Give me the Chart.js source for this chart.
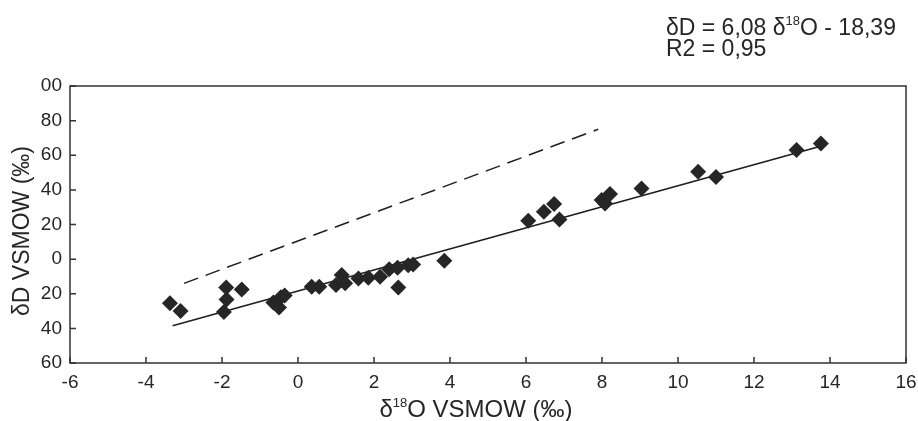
<!DOCTYPE html>
<html lang="pt-BR">
<head>
  <meta charset="UTF-8">
  <title>δD x δ18O VSMOW</title>
  <script src="https://cdn.jsdelivr.net/npm/chart.js"></script>
  <style>
    html, body { margin: 0; padding: 0; background: #fff; }
    #wrap { width: 918px; height: 421px; position: relative; }
  </style>
</head>
<body>
  <div id="wrap"><canvas id="isoChart"></canvas></div>
  <script>
    // amostras
    const d18O = [-3.37, -3.09, -1.89, -1.88, -1.95, -1.48, -0.65, -0.5, -0.45, -0.35,
                  0.36, 0.56, 1.0, 1.15, 1.24, 1.59, 1.85, 2.16, 2.4, 2.62, 2.64, 2.9, 3.03,
                  3.85, 6.06, 6.47, 6.74, 6.88, 7.99, 8.08, 8.21, 9.04, 10.53, 11.0, 13.12, 13.76];
    const dD = [-25.5, -29.9, -16.4, -23.3, -30.6, -17.5, -25, -28, -22, -21,
                -16, -16, -15, -9.2, -14, -11.2, -10.8, -10.2, -5.8, -5.0, -16.4, -3.5, -3.1,
                -1, 22.1, 27.3, 31.8, 22.9, 34.1, 32.2, 37.6, 40.8, 50.4, 47.5, 63, 66.8];

    // reta de regressão e reta tracejada
    const fitX = [-3.3, 13.8];
    const fitY = [-38.5, 65.5];
    const gmwlX = [-3, 7.9];
    const gmwlY = [-14, 75];

    // rótulos do eixo y como impressos (-60 ... 100)
    const yTickValues = [-60, -40, -20, 0, 20, 40, 60, 80, 100];
    const yTickLabels = ['60', '40', '20', '0', '20', '40', '60', '80', '00'];

    const ink = '#262626';
    const family = "'Liberation Sans', Arial, sans-serif";

    const pts = (xs, ys) => xs.map((x, i) => ({ x: x, y: ys[i] }));

    // texto com sobrescrito
    function drawRich(ctx, parts, x, y, align) {
      let total = 0;
      parts.forEach(p => {
        ctx.font = p.size + 'px ' + family;
        p.w = ctx.measureText(p.t).width;
        total += p.w;
      });
      let cx = align === 'center' ? x - total / 2 : x;
      parts.forEach(p => {
        ctx.font = p.size + 'px ' + family;
        ctx.fillText(p.t, cx, p.sup ? y - 10 : y);
        cx += p.w;
      });
    }

    const decor = {
      id: 'decor',
      afterDraw(chart) {
        const ctx = chart.ctx;
        const a = chart.chartArea;
        const sx = chart.scales.x, sy = chart.scales.y;
        ctx.save();
        // moldura
        ctx.strokeStyle = '#333';
        ctx.lineWidth = 1.5;
        ctx.strokeRect(a.left, a.top, a.right - a.left, a.bottom - a.top);
        // marcas para dentro
        ctx.beginPath();
        sx.ticks.forEach(t => {
          const px = sx.getPixelForValue(t.value);
          ctx.moveTo(px, a.bottom);
          ctx.lineTo(px, a.bottom - 6);
        });
        sy.ticks.forEach(t => {
          const py = sy.getPixelForValue(t.value);
          ctx.moveTo(a.left, py);
          ctx.lineTo(a.left + 6, py);
        });
        ctx.stroke();

        ctx.fillStyle = ink;
        ctx.textBaseline = 'alphabetic';
        ctx.textAlign = 'left';
        // equação
        drawRich(ctx, [
          { t: 'δD = 6,08 δ', size: 23 },
          { t: '18', size: 13, sup: true },
          { t: 'O - 18,39', size: 23 }
        ], 666, 35, 'left');
        drawRich(ctx, [{ t: 'R2 = 0,95', size: 23 }], 666, 56, 'left');

        // título do eixo x
        drawRich(ctx, [
          { t: 'δ', size: 24 },
          { t: '18', size: 13, sup: true },
          { t: 'O VSMOW (‰)', size: 24 }
        ], 476, 417, 'center');

        // título do eixo y
        ctx.translate(23, 231);
        ctx.rotate(-Math.PI / 2);
        ctx.textAlign = 'center';
        ctx.textBaseline = 'middle';
        ctx.font = '23px ' + family;
        ctx.fillText('δD VSMOW (‰)', 0, 0);
        ctx.restore();
      }
    };

    const ctx = document.getElementById('isoChart').getContext('2d');
    const isoChart = new Chart(ctx, {
      type: 'scatter',
      data: {
        datasets: [{
          label: 'amostras',
          data: pts(d18O, dD),
          pointStyle: 'rectRot',
          pointRadius: 8,
          backgroundColor: ink,
          borderColor: ink,
          borderWidth: 0,
          order: 0
        }, {
          label: 'regressão',
          data: pts(fitX, fitY),
          showLine: true,
          pointRadius: 0,
          borderColor: '#1e1e1e',
          borderWidth: 1.6,
          order: 1
        }, {
          label: 'tracejada',
          data: pts(gmwlX, gmwlY),
          showLine: true,
          pointRadius: 0,
          borderColor: '#1e1e1e',
          borderWidth: 1.5,
          borderDash: [15, 8],
          order: 1
        }]
      },
      options: {
        responsive: true,
        maintainAspectRatio: false,
        animation: false,
        layout: { padding: { top: 86, right: 12, left: 0, bottom: 0 } },
        plugins: {
          legend: { display: false },
          tooltip: { enabled: false }
        },
        scales: {
          x: {
            type: 'linear',
            min: -6,
            max: 16,
            ticks: {
              stepSize: 2,
              padding: 8,
              color: ink,
              font: { family: family, size: 19 }
            },
            grid: { display: false, drawTicks: false },
            border: { display: false },
            afterFit: s => { s.height = 58; s.paddingLeft = 0; s.paddingRight = 0; }
          },
          y: {
            type: 'linear',
            min: -60,
            max: 100,
            afterBuildTicks: s => { s.ticks = yTickValues.map(v => ({ value: v })); },
            ticks: {
              padding: 8,
              color: ink,
              font: { family: family, size: 19 },
              callback: v => yTickLabels[yTickValues.indexOf(v)]
            },
            grid: { display: false, drawTicks: false },
            border: { display: false },
            afterFit: s => { s.width = 70; }
          }
        }
      },
      plugins: [decor]
    });
  </script>
</body>
</html>
